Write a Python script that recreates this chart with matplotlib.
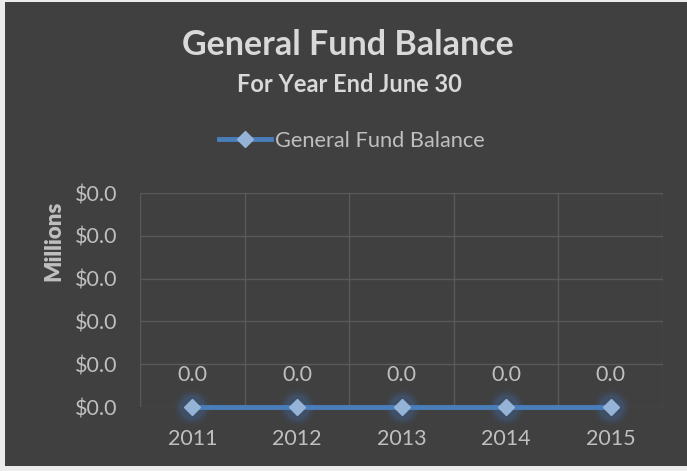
import matplotlib.pyplot as plt
from matplotlib.patches import Rectangle
from matplotlib.ticker import FuncFormatter, FixedLocator

years = ['2011', '2012', '2013', '2014', '2015']
balance = [0.0, 0.0, 0.0, 0.0, 0.0]   # millions
y_ticks = [0.0, 0.008, 0.016, 0.024, 0.032, 0.04]

bg = '#404040'
line_col = '#4a7ebb'
marker_col = '#95b3d7'
text_col = '#d9d9d9'
tick_col = '#bfbfbf'
grid_col = '#595959'

plt.rcParams['font.family'] = ['Lato', 'DejaVu Sans']

fig = plt.figure(figsize=(6.87, 4.71), dpi=100)
fig.patch.set_facecolor('#ececec')
fig.patches.append(Rectangle((5 / 687, 5 / 471), 1 - 5 / 687, 1 - 7 / 471,
                             transform=fig.transFigure, facecolor=bg,
                             edgecolor='none', zorder=-10))

ax = fig.add_axes([140 / 687, 1 - 407 / 471, 523 / 687, 214 / 471])
ax.patch.set_alpha(0)

x = list(range(len(years)))

# soft glow under the markers
for s, a in [(26, 0.08), (22, 0.12), (18, 0.2)]:
    ax.plot(x, balance, linestyle='none', marker='o', markersize=s,
            color='#3f6fae', alpha=a, markeredgewidth=0, zorder=2, clip_on=False)

ax.plot(x, balance, color=line_col, linewidth=3.5, marker='D', markersize=8,
        markerfacecolor=marker_col, markeredgecolor=marker_col,
        label='General Fund Balance', zorder=3, clip_on=False)

for xi, v in zip(x, balance):
    ax.annotate(f'{v:.1f}', (xi, v), xytext=(0, 23), textcoords='offset points',
                ha='center', va='center', color=tick_col, fontsize=15.5)

ax.set_xlim(-0.5, len(years) - 0.5)
ax.set_ylim(y_ticks[0], y_ticks[-1])
ax.set_xticks(x)
ax.set_xticklabels(years)
ax.xaxis.set_minor_locator(FixedLocator([i - 0.5 for i in range(len(years) + 1)]))
ax.set_yticks(y_ticks)
ax.yaxis.set_major_formatter(FuncFormatter(lambda v, p: f'${v:.1f}'))

ax.grid(True, which='minor', axis='x', color=grid_col, linewidth=1)
ax.grid(True, which='major', axis='y', color=grid_col, linewidth=1)
ax.set_axisbelow(True)
ax.tick_params(which='both', length=0)
ax.tick_params(axis='x', pad=16, labelcolor=tick_col, labelsize=15.5)
ax.tick_params(axis='y', pad=16, labelcolor=tick_col, labelsize=15.5)
for sp in ax.spines.values():
    sp.set_visible(False)

fig.text(348 / 687, 1 - 45 / 471, 'General Fund Balance', ha='center', va='center',
         color=text_col, fontsize=24.5, fontweight='bold')
fig.text(349 / 687, 1 - 84 / 471, 'For Year End June 30', ha='center', va='center',
         color=text_col, fontsize=17, fontweight='bold')
fig.text(54 / 687, 1 - 241 / 471, 'Millions', ha='center', va='center',
         rotation=90, color=tick_col, fontsize=16, fontweight='heavy')

leg = fig.legend(loc='center', bbox_to_anchor=(352 / 687, 1 - 141 / 471),
                 frameon=False, fontsize=15.7, handlelength=2.4, handletextpad=0.2)
for t in leg.get_texts():
    t.set_color(tick_col)

fig.savefig('out.png', dpi=100, facecolor=fig.get_facecolor())
